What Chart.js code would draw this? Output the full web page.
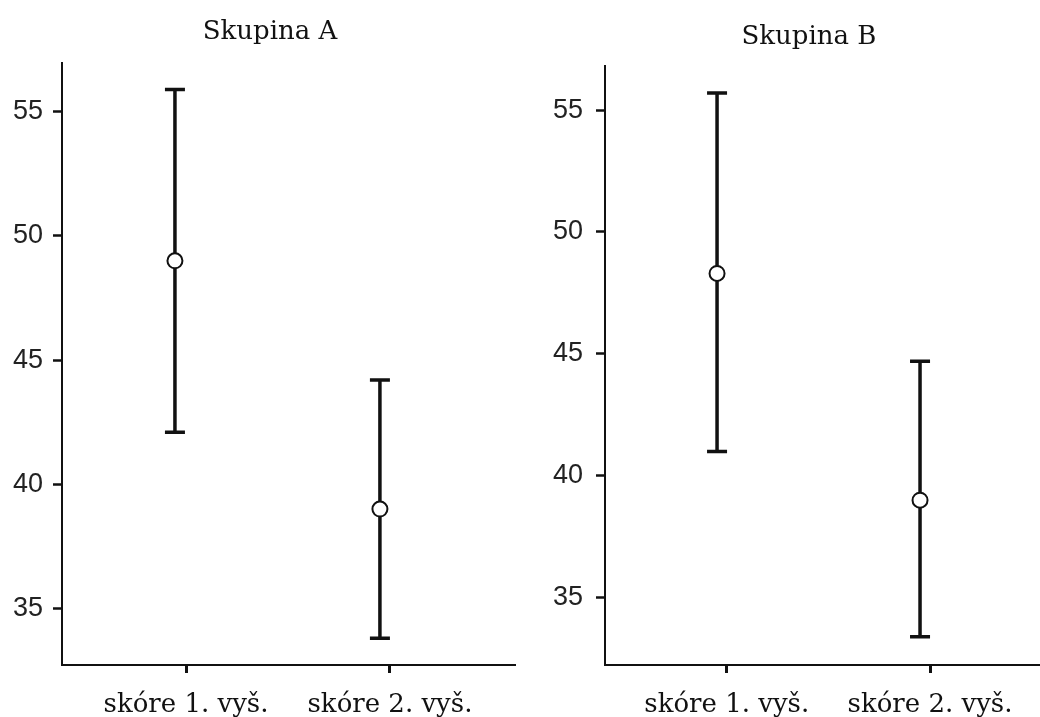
<!DOCTYPE html>
<html>
<head>
    <meta charset="utf-8">
    <title>Skupina A / Skupina B</title>
    <script src="https://cdn.jsdelivr.net/npm/chart.js"></script>
    <style>
        html, body { margin: 0; padding: 0; background: #fff; overflow: hidden; width: 1040px; height: 717px; }
        canvas { position: absolute; top: 0; }
        #chartA { left: 0; }
        #chartB { left: 540px; }
    </style>
</head>
<body>
    <canvas id="chartA" width="540" height="717"></canvas>
    <canvas id="chartB" width="538" height="717"></canvas>
    <script>
        const categories = ['skóre 1. vyš.', 'skóre 2. vyš.'];
        const yTicks = [35, 40, 45, 50, 55];

        const meanA = [49.0, 39.0];
        const lowA = [42.1, 33.8];
        const highA = [55.9, 44.2];

        const meanB = [48.3, 39.0];
        const lowB = [41.0, 33.4];
        const highB = [55.7, 44.7];

        const ink = '#111';

        // error bars drawn under the circles
        const errorBars = {
            id: 'errorBars',
            beforeDatasetsDraw(chart) {
                const ctx = chart.ctx;
                const xs = chart.scales.xd, ys = chart.scales.y;
                const ds = chart.data.datasets[0];
                ctx.save();
                ctx.strokeStyle = ink;
                ctx.lineWidth = 3.5;
                ds.data.forEach(p => {
                    const x = xs.getPixelForValue(p.x);
                    const top = ys.getPixelForValue(p.hi);
                    const bot = ys.getPixelForValue(p.lo);
                    ctx.beginPath();
                    ctx.moveTo(x, top); ctx.lineTo(x, bot);
                    ctx.moveTo(x - 10, top); ctx.lineTo(x + 10, top);
                    ctx.moveTo(x - 10, bot); ctx.lineTo(x + 10, bot);
                    ctx.stroke();
                });
                ctx.restore();
            }
        };

        function makeChart(id, title, mean, low, high, o) {
            const pts = mean.map((m, i) => ({ x: i, y: m, lo: low[i], hi: high[i] }));
            return new Chart(document.getElementById(id), {
                type: 'scatter',
                data: {
                    datasets: [{
                        data: pts,
                        xAxisID: 'xd',
                        yAxisID: 'y',
                        pointRadius: 7.5,
                        pointHoverRadius: 7.5,
                        pointBackgroundColor: '#fff',
                        pointBorderColor: ink,
                        pointBorderWidth: 2
                    }]
                },
                options: {
                    responsive: false,
                    animation: false,
                    layout: { padding: 0 },
                    plugins: {
                        legend: { display: false },
                        tooltip: { enabled: false },
                        title: {
                            display: true,
                            text: title,
                            color: '#111',
                            font: { family: 'DejaVu Serif', size: 26, weight: 'normal', lineHeight: 1.2 },
                            padding: o.titlePad
                        }
                    },
                    scales: {
                        x: {
                            type: 'linear',
                            position: 'bottom',
                            min: o.xMin, max: o.xMax,
                            afterBuildTicks: s => { s.ticks = categories.map((c, i) => ({ value: i })); },
                            afterFit: s => { s.height = 52; },
                            ticks: {
                                callback: v => categories[v],
                                color: '#111',
                                font: { family: 'DejaVu Serif', size: 26 },
                                padding: 17,
                                maxRotation: 0,
                                autoSkip: false
                            },
                            grid: { drawOnChartArea: false, drawTicks: true, tickLength: 8, tickWidth: 3, tickColor: ink },
                            border: { display: true, color: ink, width: 2 }
                        },
                        xd: {
                            type: 'linear',
                            display: false,
                            min: o.dMin, max: o.dMax
                        },
                        y: {
                            min: o.yMin, max: o.yMax,
                            afterBuildTicks: s => { s.ticks = yTicks.map(v => ({ value: v })); },
                            afterFit: s => { s.width = o.yWidth; },
                            ticks: {
                                color: '#222',
                                font: { family: 'Liberation Sans', size: 27 },
                                padding: o.yPad
                            },
                            grid: { drawOnChartArea: false, drawTicks: true, tickLength: 9, tickWidth: 2.5, tickColor: ink },
                            border: { display: true, color: ink, width: 2 }
                        },
                        // empty right-hand spacer so the title centre matches the reference
                        gap: {
                            type: 'linear',
                            position: 'right',
                            ticks: { display: false },
                            grid: { display: false },
                            border: { display: false },
                            afterFit: s => { s.width = o.gapWidth; }
                        }
                    }
                },
                plugins: [errorBars]
            });
        }

        makeChart('chartA', 'Skupina A', meanA, lowA, highA, {
            titlePad: { top: 17, bottom: 15 },
            yWidth: 62, gapWidth: 25,
            xMin: -0.608, xMax: 1.613, dMin: -0.551, dMax: 1.659,
            yMin: 32.72, yMax: 56.96, yPad: 10
        });

        makeChart('chartB', 'Skupina B', meanB, lowB, highB, {
            titlePad: { top: 22, bottom: 13 },
            yWidth: 65, gapWidth: 38,
            xMin: -0.599, xMax: 1.541, dMin: -0.552, dMax: 1.591,
            yMin: 32.24, yMax: 56.8, yPad: 13
        });
    </script>
</body>
</html>
